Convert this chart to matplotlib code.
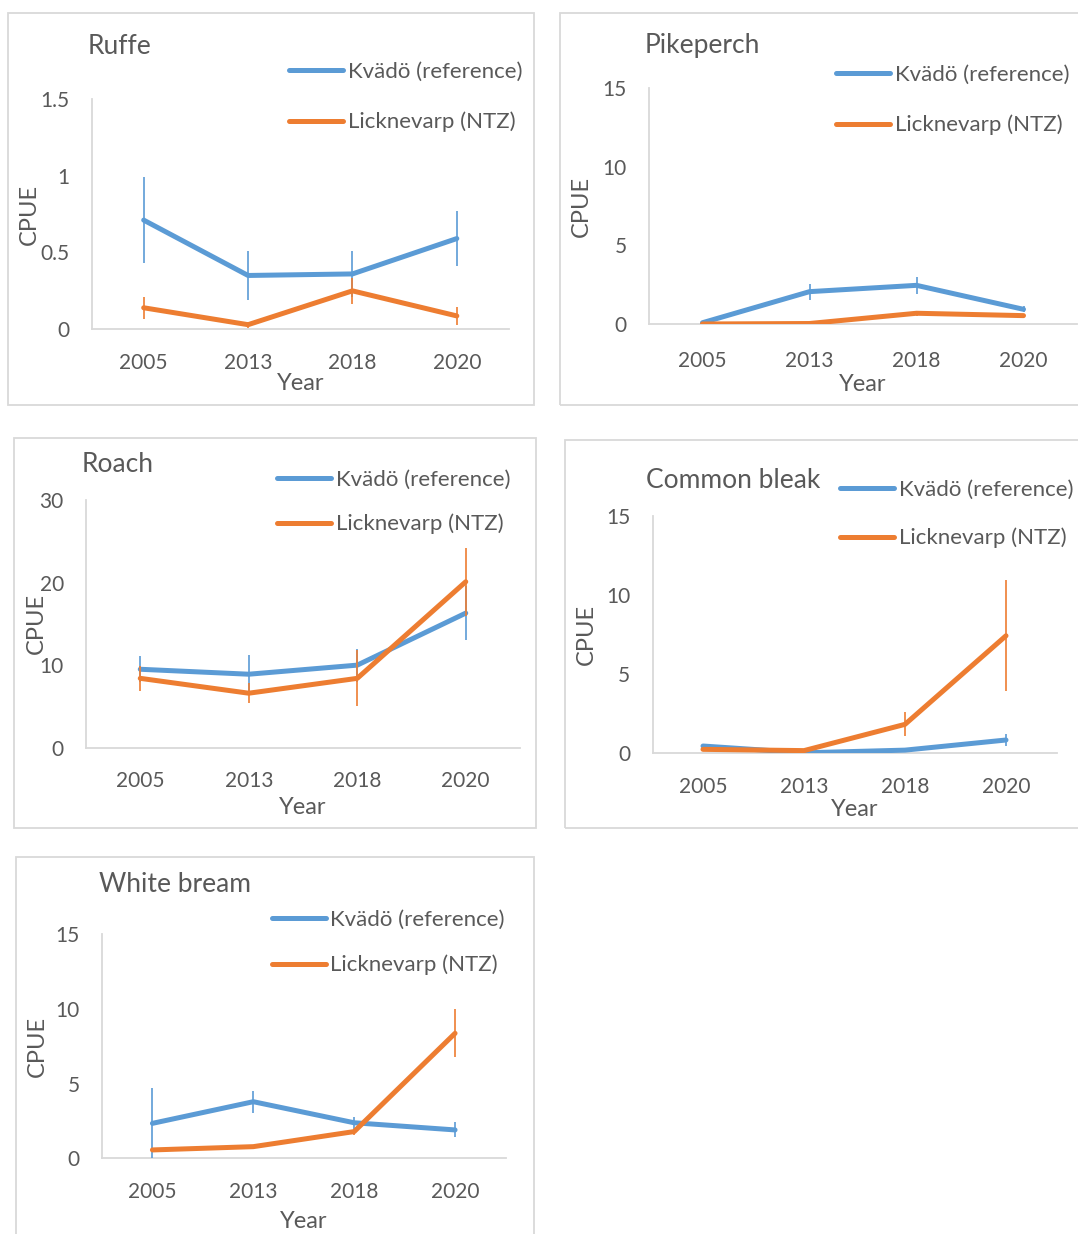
import matplotlib
matplotlib.use("Agg")
import matplotlib.pyplot as plt
from matplotlib.patches import Rectangle

plt.rcParams['font.family'] = ['Lato', 'DejaVu Sans']

# ---------------- data ----------------
years = ['2005', '2013', '2018', '2020']
series_names = ['Kvädö (reference)', 'Licknevarp (NTZ)']

ruffe_kvado = [0.71, 0.35, 0.36, 0.59]
ruffe_kvado_err = [0.28, 0.16, 0.15, 0.18]
ruffe_lick = [0.14, 0.03, 0.25, 0.087]
ruffe_lick_err = [0.07, 0.02, 0.085, 0.06]

pike_kvado = [0.1, 2.07, 2.47, 0.95]
pike_kvado_err = [0.0, 0.5, 0.55, 0.2]
pike_lick = [0.02, 0.05, 0.7, 0.55]
pike_lick_err = [0.0, 0.0, 0.15, 0.0]

roach_kvado = [9.5, 8.9, 10.0, 16.3]
roach_kvado_err = [1.6, 2.3, 2.0, 3.3]
roach_lick = [8.4, 6.6, 8.4, 20.1]
roach_lick_err = [1.5, 1.2, 3.4, 4.1]

bleak_kvado = [0.46, 0.03, 0.2, 0.84]
bleak_kvado_err = [0.0, 0.0, 0.0, 0.4]
bleak_lick = [0.25, 0.17, 1.83, 7.43]
bleak_lick_err = [0.0, 0.0, 0.75, 3.5]

bream_kvado = [2.34, 3.79, 2.38, 1.9]
bream_kvado_err = [2.35, 0.75, 0.4, 0.5]
bream_lick = [0.56, 0.78, 1.79, 8.37]
bream_lick_err = [0.0, 0.0, 0.2, 1.6]

# ---------------- layout ----------------
W, H = 1078, 1234
fig = plt.figure(figsize=(W / 100, H / 100), dpi=100)
fig.patch.set_facecolor('white')

BLUE = '#5B9BD5'
ORANGE = '#ED7D31'
TXT = '#595959'
GRID = '#D9D9D9'


def fx(px):
    return px / W


def fy(py):
    return 1 - py / H


panels = [
    dict(title='Ruffe', data=(ruffe_kvado, ruffe_kvado_err, ruffe_lick, ruffe_lick_err),
         box=(8, 13, 534, 405), ax=(91.5, 98.6, 509, 329.3), ylim=1.5, yticks=[0, 0.5, 1, 1.5],
         yticklabels=['0', '0.5', '1', '1.5'],
         title_pos=(87.5, 47), leg=(289, 72, 122), cpue_x=29.5, year_y=384, xpad=17),
    dict(title='Pikeperch', data=(pike_kvado, pike_kvado_err, pike_lick, pike_lick_err),
         box=(560, 13, 1090, 405), ax=(649, 87.7, 1077, 324.3), ylim=15, yticks=[0, 5, 10, 15],
         yticklabels=['0', '5', '10', '15'],
         title_pos=(645, 45), leg=(836, 75, 125), cpue_x=581, year_y=385, xpad=19),
    dict(title='Roach', data=(roach_kvado, roach_kvado_err, roach_lick, roach_lick_err),
         box=(14, 438, 536, 828), ax=(86, 500, 520, 747.7), ylim=30, yticks=[0, 10, 20, 30],
         yticklabels=['0', '10', '20', '30'],
         title_pos=(82, 464), leg=(277, 480, 524), cpue_x=36, year_y=808, xpad=17),
    dict(title='Common bleak', data=(bleak_kvado, bleak_kvado_err, bleak_lick, bleak_lick_err),
         box=(565, 440, 1090, 828), ax=(652.5, 516, 1056.5, 753.3), ylim=15, yticks=[0, 5, 10, 15],
         yticklabels=['0', '5', '10', '15'],
         title_pos=(646, 481), leg=(840, 490, 538), cpue_x=586, year_y=810, xpad=17),
    dict(title='White bream', data=(bream_kvado, bream_kvado_err, bream_lick, bream_lick_err),
         box=(16, 857, 534, 1250), ax=(102, 934.3, 505.5, 1158.3), ylim=15, yticks=[0, 5, 10, 15],
         yticklabels=['0', '5', '10', '15'],
         title_pos=(99, 885), leg=(271.5, 920, 965), cpue_x=37.5, year_y=1221, xpad=17),
]

FS = 15
LFS = 16
x = list(range(len(years)))

for p in panels:
    bx0, by0, bx1, by1 = p['box']
    fig.patches.append(Rectangle((fx(bx0), fy(by1)), (bx1 - bx0) / W, (by1 - by0) / H,
                                 transform=fig.transFigure, fill=False,
                                 edgecolor=GRID, linewidth=1.3, zorder=0))
    x0, y0, x1, y1 = p['ax']
    ax = fig.add_axes([fx(x0), fy(y1), (x1 - x0) / W, (y1 - y0) / H])
    ax.set_facecolor('none')
    k, ke, l, le = p['data']
    hk = ax.errorbar(x, k, yerr=ke, color=BLUE, ecolor=BLUE, elinewidth=1.2, capsize=0,
                     lw=3.6, solid_capstyle='round', solid_joinstyle='round', zorder=3,
                     label=series_names[0])
    hl = ax.errorbar(x, l, yerr=le, color=ORANGE, ecolor=ORANGE, elinewidth=1.2, capsize=0,
                     lw=3.6, solid_capstyle='round', solid_joinstyle='round', zorder=4,
                     label=series_names[1])
    ax.set_xlim(-0.5, len(years) - 0.5)
    ax.set_ylim(0, p['ylim'])
    ax.set_xticks(x)
    ax.set_xticklabels(years)
    ax.set_yticks(p['yticks'])
    ax.set_yticklabels(p['yticklabels'])
    ax.tick_params(axis='both', length=0, labelsize=FS, labelcolor=TXT)
    ax.tick_params(axis='x', pad=p['xpad'])
    ax.tick_params(axis='y', pad=16)
    for s in ['top', 'right']:
        ax.spines[s].set_visible(False)
    for s in ['left', 'bottom']:
        ax.spines[s].set_color(GRID)
        ax.spines[s].set_linewidth(1.3)
    ax.set_xlabel('Year', fontsize=17, color=TXT)
    ax.set_ylabel('CPUE', fontsize=17, color=TXT)
    axw = x1 - x0
    axh = y1 - y0
    ax.xaxis.set_label_coords(0.5, -(p['year_y'] - y1) / axh)
    ax.xaxis.label.set_va('center')
    ax.yaxis.set_label_coords(-(x0 - p['cpue_x']) / axw, 0.5)
    ax.yaxis.label.set_va('center')
    ax.yaxis.label.set_ha('center')

    tx, ty = p['title_pos']
    fig.text(fx(tx), fy(ty), p['title'], ha='left', va='center', fontsize=19, color=TXT)

    lx, ly1, ly2 = p['leg']
    spacing = ly2 - ly1
    fs_px = LFS * 100 / 72
    lsp = (spacing - 0.9 * fs_px) / fs_px
    fig.legend(handles=[hk.lines[0], hl.lines[0]], labels=series_names,
               loc='center left', bbox_to_anchor=(fx(lx), fy((ly1 + ly2) / 2)),
               bbox_transform=fig.transFigure, frameon=False, fontsize=LFS,
               handlelength=2.45, handletextpad=0.2, borderpad=0, borderaxespad=0,
               labelspacing=lsp, labelcolor=TXT)

fig.savefig('out.png', dpi=100, facecolor='white')
